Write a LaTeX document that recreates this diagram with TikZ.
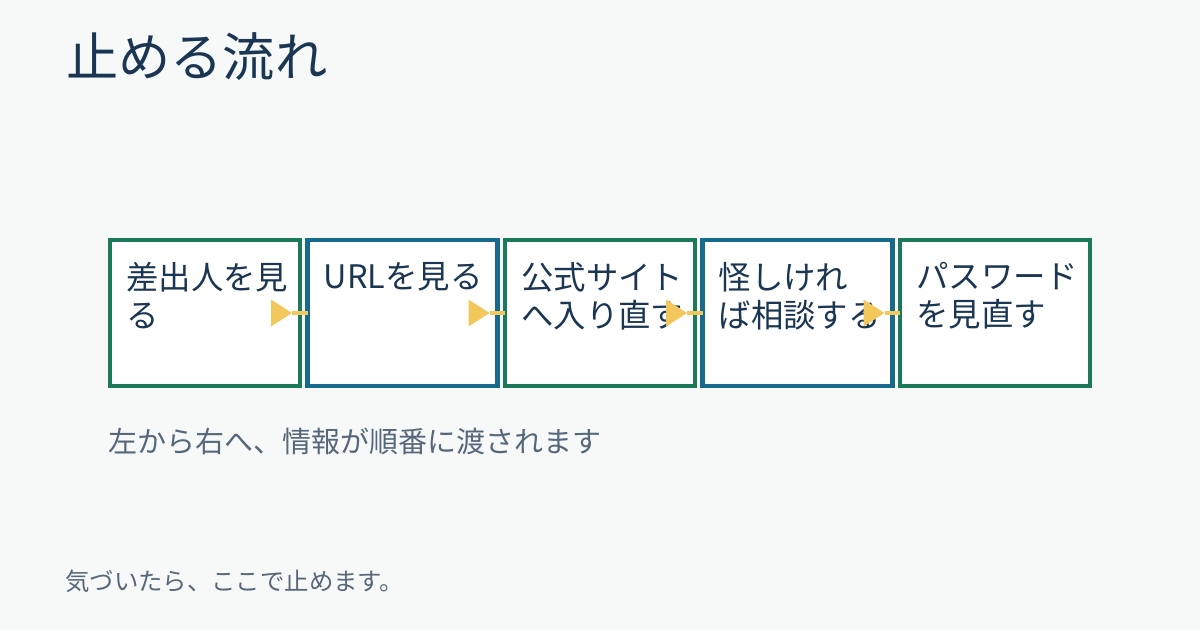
\documentclass[tikz,border=0pt]{standalone}
\usepackage{fontspec}
\setmainfont{Noto Sans CJK JP}
\usepackage{tikz}
\usetikzlibrary{positioning}

\definecolor{pagebg}{HTML}{F7F9F9}
\definecolor{inkdark}{HTML}{1B3652}
\definecolor{inkgrey}{HTML}{56677A}
\definecolor{boxgreen}{HTML}{1C7A5A}
\definecolor{boxblue}{HTML}{186A8C}
\definecolor{flowyellow}{HTML}{F2C75C}

\tikzset{
  stagebox/.style={draw, line width=4.3pt, fill=white, outer sep=0pt,
    minimum width=190pt, minimum height=146pt},
  stagetext/.style={anchor=north west, inner sep=0pt, align=left,
    text=inkdark, font=\fontsize{32.4}{38}\selectfont},
  flowline/.style={draw=flowyellow, line width=4pt},
  flowtip/.style={fill=flowyellow}
}

\begin{document}
\begin{tikzpicture}[x=1pt,y=-1pt,node distance=197.5pt,on grid]
  \fill[pagebg] (0,0) rectangle (1200,630);
  \useasboundingbox (0,0) rectangle (1200,630);

  \node[anchor=west, inner sep=0pt, text=inkdark, font=\fontsize{52.2}{60}\selectfont]
    (title) at (66,57) {止める流れ};

  \node[stagebox, draw=boxgreen] (b1) at (205,313) {};
  \node[stagebox, draw=boxblue]  (b2) [right=of b1] {};
  \node[stagebox, draw=boxgreen] (b3) [right=of b2] {};
  \node[stagebox, draw=boxblue]  (b4) [right=of b3] {};
  \node[stagebox, draw=boxgreen] (b5) [right=of b4] {};

  \node[stagetext] (t1) at ([shift={(16,22)}]b1.north west) {差出人を見\\る};
  \node[stagetext] (t2) at ([shift={(16,22)}]b2.north west) {URLを見る};
  \node[stagetext] (t3) at ([shift={(16,22)}]b3.north west) {公式サイト\\へ入り直す};
  \node[stagetext] (t4) at ([shift={(16,22)}]b4.north west) {怪しけれ\\ば相談する};
  \node[stagetext] (t5) at ([shift={(16,22)}]b5.north west) {パスワード\\を見直す};

  % arrows between the stages
  \draw[flowline] ([xshift=-8pt]b1.east) -- (b2.west);
  \fill[flowtip] ([xshift=-8pt]b1.east) -- ++(-21,-13.5) -- ++(0,27) -- cycle;
  \draw[flowline] ([xshift=-8pt]b2.east) -- (b3.west);
  \fill[flowtip] ([xshift=-8pt]b2.east) -- ++(-21,-13.5) -- ++(0,27) -- cycle;
  \draw[flowline] ([xshift=-8pt]b3.east) -- (b4.west);
  \fill[flowtip] ([xshift=-8pt]b3.east) -- ++(-21,-13.5) -- ++(0,27) -- cycle;
  \draw[flowline] ([xshift=-8pt]b4.east) -- (b5.west);
  \fill[flowtip] ([xshift=-8pt]b4.east) -- ++(-21,-13.5) -- ++(0,27) -- cycle;

  \node[anchor=west, inner sep=0pt, text=inkgrey, font=\fontsize{29}{34}\selectfont]
    (caption) at (108,441) {左から右へ、情報が順番に渡されます};
  \node[anchor=west, inner sep=0pt, text=inkgrey, font=\fontsize{24.4}{29}\selectfont]
    (footer) at (65,581) {気づいたら、ここで止めます。};
\end{tikzpicture}
\end{document}
